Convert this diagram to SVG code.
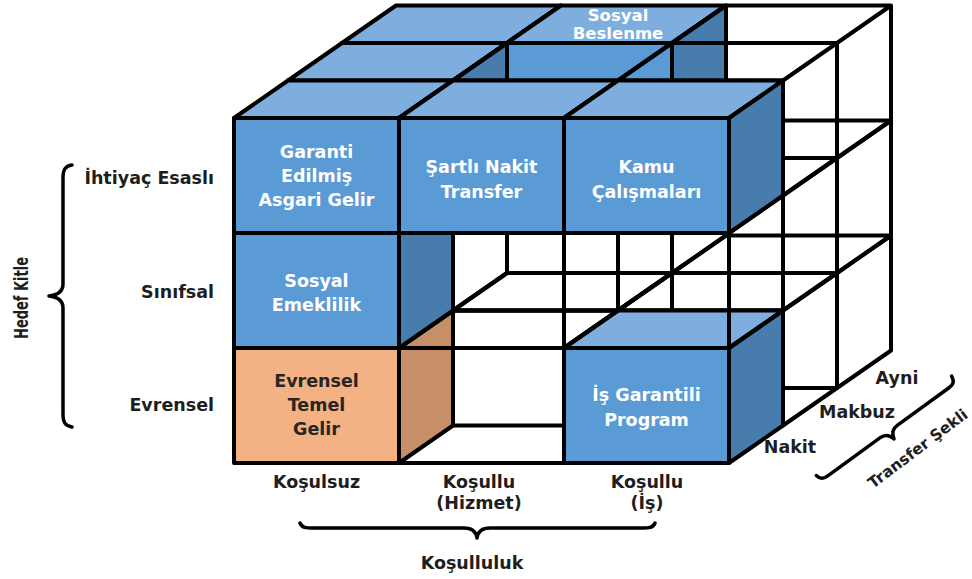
<svg xmlns="http://www.w3.org/2000/svg" width="972" height="579" viewBox="0 0 972 579">
<style>
.e{stroke:#000;stroke-width:4;stroke-linejoin:round;stroke-linecap:round}
.wf{fill:none;stroke:#000;stroke-width:4;stroke-linejoin:round;stroke-linecap:round}
.bf{fill:#5B9BD5}.bt{fill:#7DAEDD}.bs{fill:#477CAD}
.of{fill:#F4B183}.ot{fill:#F8C9A5}.os{fill:#C78F67}
.w{font-family:"DejaVu Sans",sans-serif;font-weight:bold;font-size:17.5px;fill:#fff;text-anchor:middle}
.d{font-family:"DejaVu Sans",sans-serif;font-weight:bold;font-size:17.5px;fill:#262626;text-anchor:middle}
.k{font-family:"DejaVu Sans",sans-serif;font-weight:bold;font-size:17.5px;fill:#1e1e1e}
.br{fill:none;stroke:#000;stroke-width:3.5;stroke-linecap:round;stroke-linejoin:round}
</style>
<defs>
<path id="w" class="wf" d="M0,0H165V115H0Z M0,0L54,-37.5H219L165,0 M219,-37.5V77.5L165,115"/>
<g id="cb">
<path class="e bf" d="M0,0H165V115H0Z"/>
<path class="e bt" d="M0,0L54,-37.5H219L165,0Z"/>
<path class="e bs" d="M165,0L219,-37.5V77.5L165,115Z"/>
</g>
<g id="co">
<path class="e of" d="M0,0H165V115H0Z"/>
<path class="e ot" d="M0,0L54,-37.5H219L165,0Z"/>
<path class="e os" d="M165,0L219,-37.5V77.5L165,115Z"/>
</g>
</defs>

<g id="cube">
<!-- depth layer 2 (Ayni) -->
<use href="#w" x="672" y="273"/>
<use href="#w" x="507" y="158"/><use href="#w" x="672" y="158"/>
<g id="ayni-r0c0"><use href="#cb" x="342" y="43"/></g>
<g id="sosyal-beslenme"><use href="#cb" x="507" y="43"/>
<text class="w" x="618" y="20.5" style="font-size:16.5px">Sosyal</text>
<text class="w" x="618" y="38.5" style="font-size:16.5px">Beslenme</text></g>
<use href="#w" x="672" y="43"/>
<!-- depth layer 1 (Makbuz) -->
<use href="#w" x="453" y="310.5"/><use href="#w" x="618" y="310.5"/>
<use href="#w" x="288" y="195.5"/><use href="#w" x="453" y="195.5"/><use href="#w" x="618" y="195.5"/>
<g id="makbuz-r0c0"><use href="#cb" x="288" y="80.5"/></g>
<use href="#w" x="453" y="80.5"/><use href="#w" x="618" y="80.5"/>
<!-- depth layer 0 (Nakit) -->
<g id="evrensel-temel-gelir"><use href="#co" x="234" y="348"/>
<text class="d" x="316.5" y="387">Evrensel</text>
<text class="d" x="316.5" y="411">Temel</text>
<text class="d" x="316.5" y="435">Gelir</text></g>
<use href="#w" x="399" y="348"/>
<g id="is-garantili-program"><use href="#cb" x="564" y="348"/>
<text class="w" x="646.5" y="401">İş Garantili</text>
<text class="w" x="646.5" y="426">Program</text></g>
<g id="sosyal-emeklilik"><use href="#cb" x="234" y="233"/>
<text class="w" x="316.5" y="287">Sosyal</text>
<text class="w" x="316.5" y="311">Emeklilik</text></g>
<use href="#w" x="399" y="233"/><use href="#w" x="564" y="233"/>
<g id="garanti"><use href="#cb" x="234" y="118"/>
<text class="w" x="316.5" y="158">Garanti</text>
<text class="w" x="316.5" y="182">Edilmiş</text>
<text class="w" x="316.5" y="206">Asgari Gelir</text></g>
<g id="sartli-nakit-transfer"><use href="#cb" x="399" y="118"/>
<text class="w" x="481.5" y="173">Şartlı Nakit</text>
<text class="w" x="481.5" y="198">Transfer</text></g>
<g id="kamu-calismalari"><use href="#cb" x="564" y="118"/>
<text class="w" x="646.5" y="173">Kamu</text>
<text class="w" x="646.5" y="198">Çalışmaları</text></g>
</g>

<g id="connectors">
<path class="br" d="M72,165 C65,166 63,170 63,178 L63,284 C63,291 58,295 49,296 C58,297 63,301 63,308 L63,414 C63,422 65,426 72,427"/>
<path class="br" d="M300,523 C302,528 306,528 314,528 L464,528 C472,528 476,531 477,538 C478,531 482,528 490,528 L641,528 C649,528 653,528 655,523"/>
<path class="br" transform="translate(822,480) rotate(-36)" d="M-2,-7 C-1,-1 2,0 8,0 L72,0 C78,0 81,3 82.5,9 C84,3 87,0 93,0 L157,0 C163,0 165,-2 166,-8"/>
</g>

<g id="axis-labels">
<text class="k" x="214" y="184" text-anchor="end">İhtiyaç Esaslı</text>
<text class="k" x="214" y="298" text-anchor="end">Sınıfsal</text>
<text class="k" x="214" y="411" text-anchor="end">Evrensel</text>
<text class="k" transform="translate(28,298) rotate(-90) scale(1,1.2)" text-anchor="middle" style="font-size:16px" textLength="82" lengthAdjust="spacingAndGlyphs">Hedef Kitle</text>
<text class="k" x="316.5" y="488" text-anchor="middle">Koşulsuz</text>
<text class="k" x="479" y="488" text-anchor="middle">Koşullu</text>
<text class="k" x="479" y="509" text-anchor="middle">(Hizmet)</text>
<text class="k" x="647" y="488" text-anchor="middle">Koşullu</text>
<text class="k" x="647" y="509" text-anchor="middle">(İş)</text>
<text class="k" x="472" y="569" text-anchor="middle">Koşulluluk</text>
<text class="k" x="897" y="384" text-anchor="middle">Ayni</text>
<text class="k" x="857" y="418" text-anchor="middle">Makbuz</text>
<text class="k" x="790" y="453" text-anchor="middle">Nakit</text>
<text class="k" transform="translate(873,489) rotate(-37)" style="font-size:15.5px">Transfer Şekli</text>
</g>
</svg>
